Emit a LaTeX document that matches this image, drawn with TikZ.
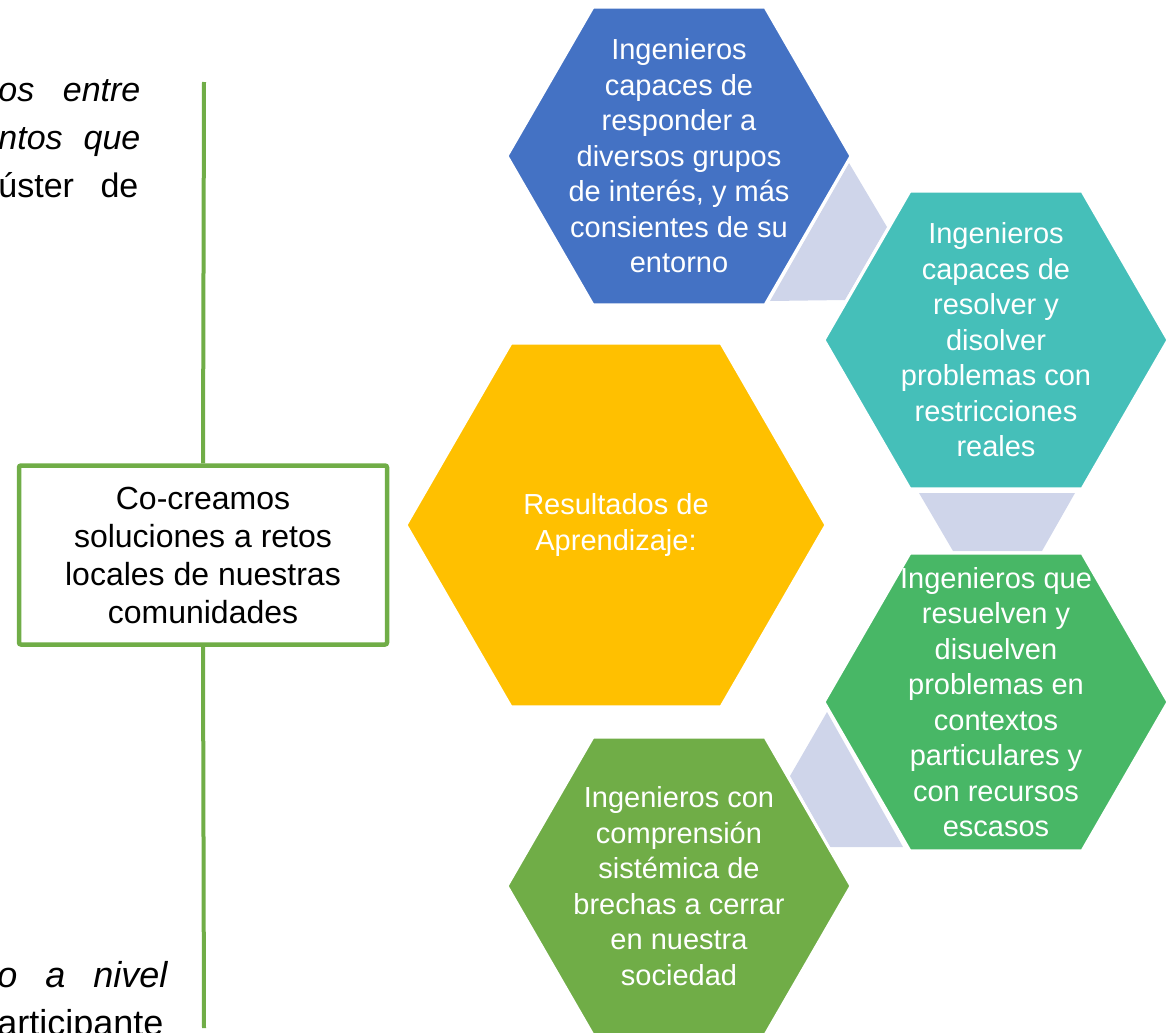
\documentclass[tikz,border=0pt]{standalone}
\usepackage{fontspec}
\setmainfont{Liberation Sans}
\usetikzlibrary{shapes.geometric}

\definecolor{hexblue}{HTML}{4472C4}
\definecolor{hexteal}{HTML}{45BFB9}
\definecolor{hexyellow}{HTML}{FFC000}
\definecolor{hexgreen}{HTML}{48B766}
\definecolor{hexolive}{HTML}{70AD47}
\definecolor{linkgray}{HTML}{CFD5EA}

\tikzset{
	hexa/.style={regular polygon, regular polygon sides=6, minimum size=172pt, inner sep=0pt, draw=white, line width=1.5pt, fill=#1},
	hextext/.style={text=white, align=center, inner sep=0pt, font=\fontsize{14.5}{17.75}\selectfont},
	link/.style={fill=linkgray},
	cobox/.style={draw=hexolive, line width=2.25pt, rounded corners=1pt, fill=white, minimum width=184pt, minimum height=89.5pt, align=center, font=\fontsize{16}{19}\selectfont},
	frag/.style={anchor=base west, inner sep=0pt}
}

\begin{document}
\begin{tikzpicture}[x=0.5pt, y=-0.5pt]
	
	\clip (0,0) rectangle (1173,1033);
	
	% cut-off paragraph lines on the left
	\node[frag, font=\fontsize{17}{20}\selectfont] (p1) at (-2,101) {\makebox[71pt][s]{\itshape os entre}};
	\node[frag, font=\fontsize{17}{20}\selectfont] (p2) at (-2,149) {\makebox[71pt][s]{\itshape ntos que}};
	\node[frag, font=\fontsize{17}{20}\selectfont] (p3) at (-2,197) {\makebox[70pt][s]{úster de}};
	\node[frag, font=\fontsize{18}{21}\selectfont] (p4) at (-3,987) {\makebox[85pt][s]{\itshape o a nivel}};
	\node[frag, font=\fontsize{18}{21}\selectfont] (p5) at (-3,1035) {\makebox[85pt][s]{articipante}};
	
	% stem and box
	\coordinate (top) at (204,82);
	\coordinate (bot) at (204,1028);
	\node[cobox] (reto) at (203,555) {Co-creamos\\soluciones a retos\\locales de nuestras\\comunidades};
	\draw[hexolive, line width=2pt] (top) -- (reto.north);
	\draw[hexolive, line width=2pt] (reto.south) -- (bot);
	
	% links between the hexagons
	\fill[link] (849,163) -- (887,227) -- (845,300) -- (770,301) -- cycle;
	\fill[link] (919,493) -- (1075,493) -- (1042,551) -- (953,551) -- cycle;
	\fill[link] (827,712) -- (903,847) -- (830,847) -- (790,776) -- cycle;
	
	% hexagons
	\node[hexa=hexblue] (hblue) at (679,156) {};
	\node[hexa=hexteal] (hteal) at (996,340) {};
	\node[hexa=hexyellow, minimum size=210pt] (hyellow) at (616,525) {};
	\node[hexa=hexgreen] (hgreen) at (996,702) {};
	\node[hexa=hexolive] (holive) at (679,886) {};
	
	\node[hextext] (tblue) at (hblue.center) {Ingenieros\\capaces de\\responder a\\diversos grupos\\de interés, y más\\consientes de su\\entorno};
	\node[hextext] (tteal) at (hteal.center) {Ingenieros\\capaces de\\resolver y\\disolver\\problemas con\\restricciones\\reales};
	\node[hextext] (tyellow) at (hyellow.center) {Resultados de\\Aprendizaje:};
	\node[hextext] (tgreen) at (hgreen.center) {Ingenieros que\\resuelven y\\disuelven\\problemas en\\contextos\\particulares y\\con recursos\\escasos};
	\node[hextext] (tolive) at (holive.center) {Ingenieros con\\comprensión\\sistémica de\\brechas a cerrar\\en nuestra\\sociedad};
	
\end{tikzpicture}
\end{document}
